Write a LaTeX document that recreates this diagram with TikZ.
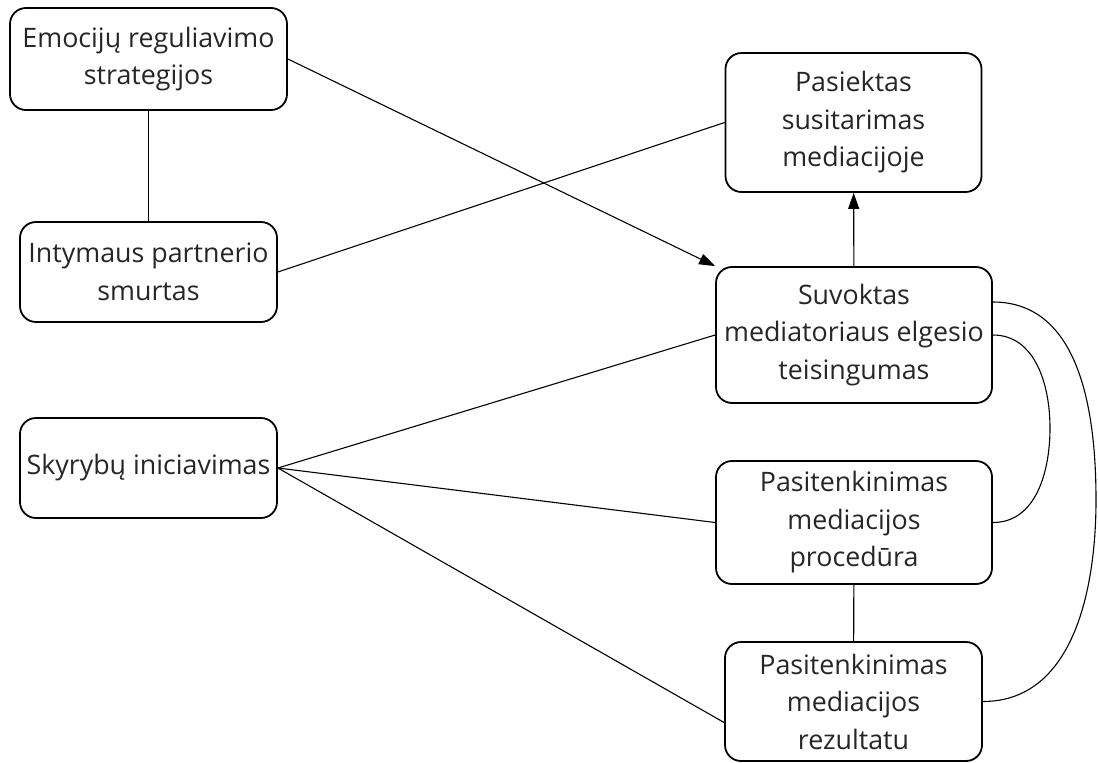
\documentclass[tikz,border=0pt]{standalone}
\usepackage{fontspec}
\setmainfont{Open Sans}
\usepackage{tikz}
\usetikzlibrary{arrows.meta}

\begin{document}
\begin{tikzpicture}[
    x=1pt, y=-1pt,
    vbox/.style={draw, line width=1.8pt, rounded corners=16pt, align=center,
        inner sep=1pt, text=black!85,
        font=\fontsize{26.8}{37.5}\selectfont},
    vline/.style={line width=1.1pt},
    varrow/.style={-{Triangle[length=16pt, width=11pt]}, line width=1.1pt}
]
\useasboundingbox (0,0) rectangle (1098,763);
% --- Left column ---
\node[vbox, minimum width=277pt, minimum height=102pt] (emo) at (148.5, 59) {Emocijų reguliavimo\\strategijos};
\node[vbox, minimum width=257pt, minimum height=100pt] (smurt) at (148.5, 272) {Intymaus partnerio\\smurtas};
\node[vbox, minimum width=257pt, minimum height=100pt] (skyr) at (148.5, 468) {Skyrybų iniciavimas};
% --- Right column ---
\node[vbox, minimum width=256pt, minimum height=139pt] (susit) at (853.5, 122.5) {Pasiektas\\susitarimas\\mediacijoje};
\node[vbox, minimum width=276pt, minimum height=136pt] (teis) at (854, 335) {Suvoktas\\mediatoriaus elgesio\\teisingumas};
\node[vbox, minimum width=276pt, minimum height=123pt] (proc) at (854, 522.5) {Pasitenkinimas\\mediacijos\\procedūra};
\node[vbox, minimum width=257pt, minimum height=119pt] (rez) at (853.5, 701.5) {Pasitenkinimas\\mediacijos\\rezultatu};
% --- Straight links ---
\draw[vline] (emo) -- (smurt);
\draw[vline] (proc) -- (rez);
\draw[varrow] (teis) -- (susit);
\draw[varrow] (emo.east) -- (teis.north west);
\draw[vline] (smurt.east) -- (susit.west);
\draw[vline] (skyr.east) -- (teis.west);
\draw[vline] (skyr.east) -- (proc.west);
\draw[vline] (skyr.east) -- ([yshift=-21pt]rez.west);
% --- Curved links on the right ---
\coordinate (bendA) at (1096, 500);
\coordinate (bendB) at (1050, 428);
\draw[vline] ([yshift=33pt]teis.east) to[out=0, in=90] (bendA) to[out=-90, in=0] (rez.east);
\draw[vline] (teis.east) to[out=0, in=90] (bendB) to[out=-90, in=0] (proc.east);
\end{tikzpicture}
\end{document}
